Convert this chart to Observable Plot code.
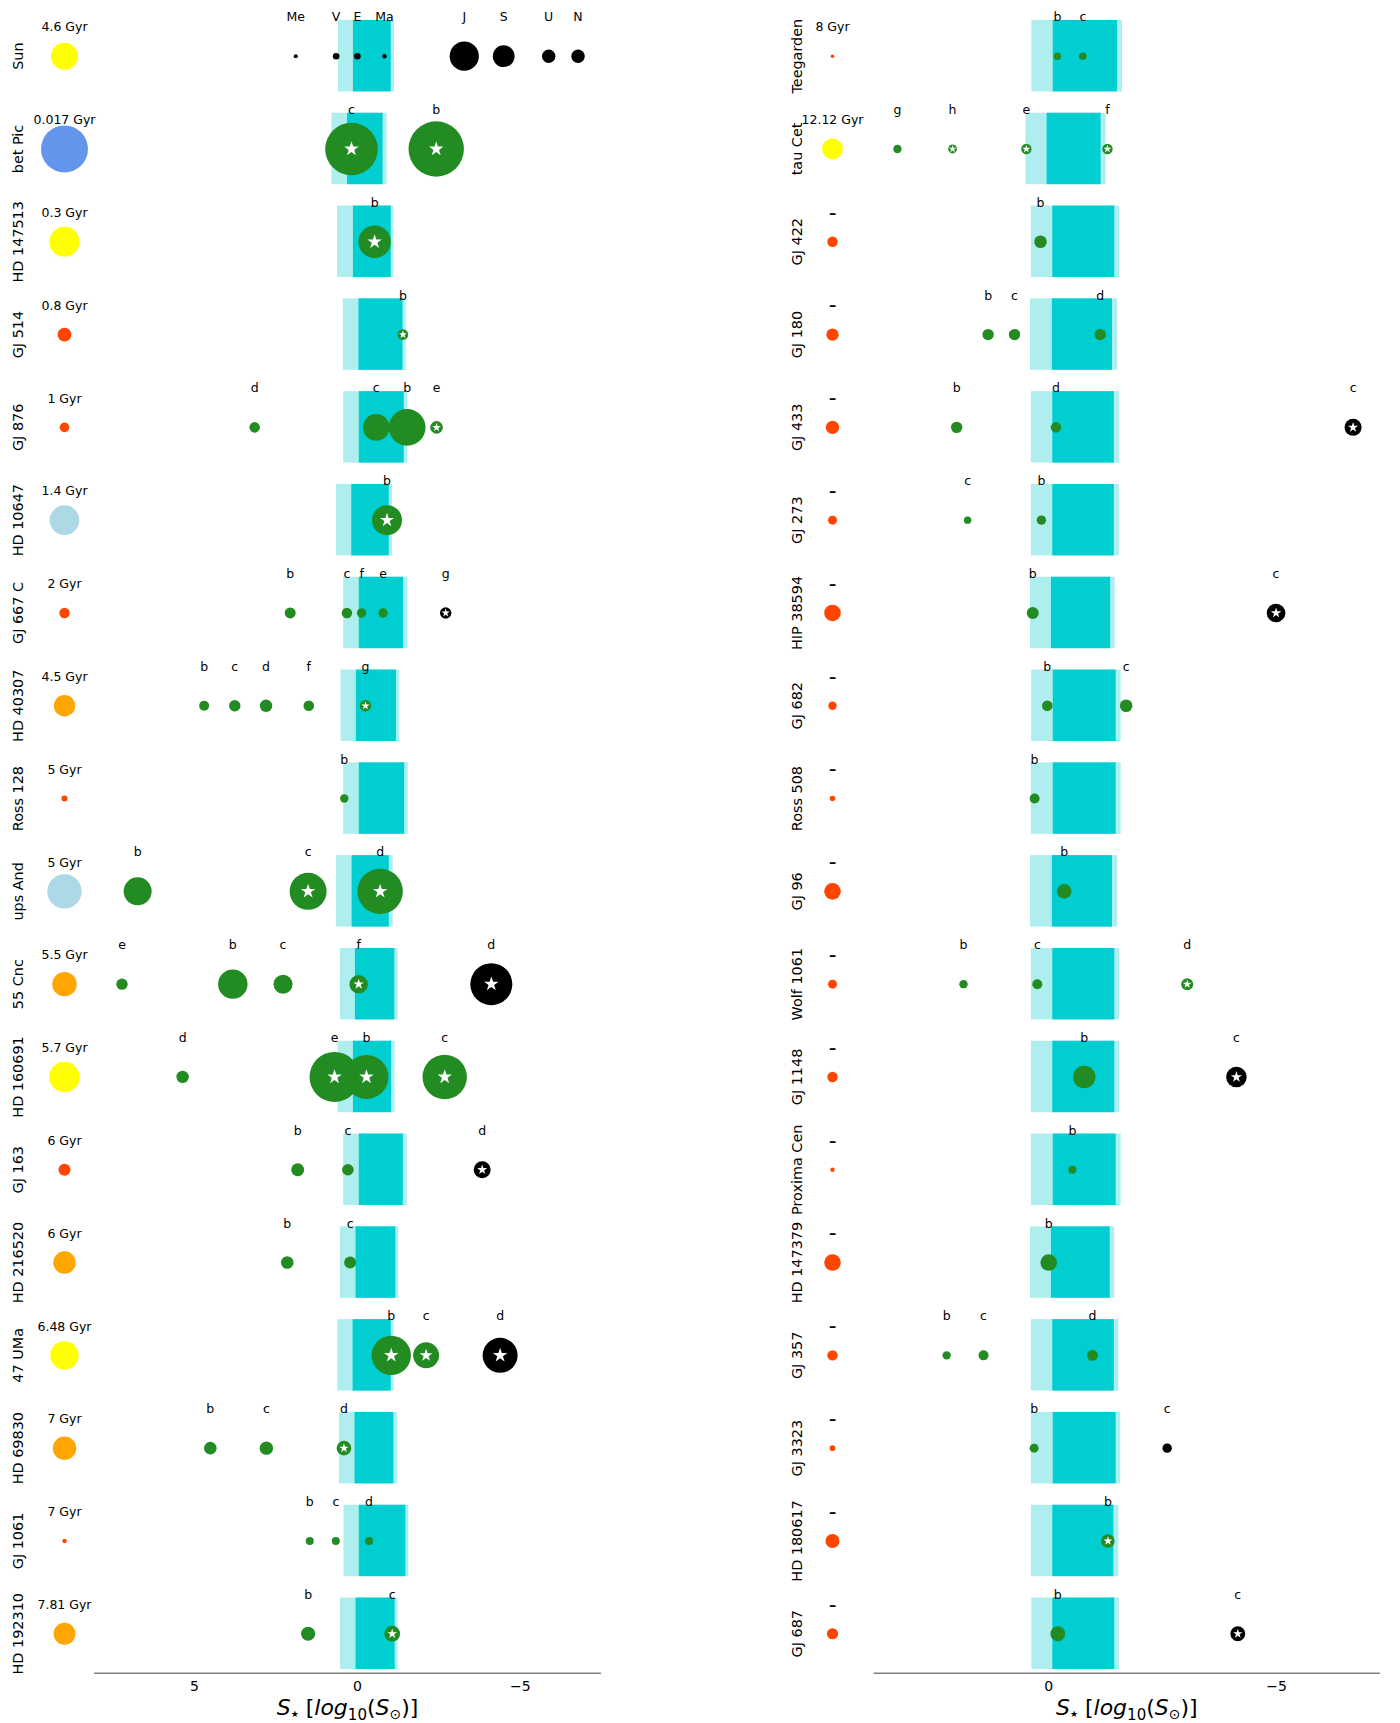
<!DOCTYPE html>
<html>
<head>
<meta charset="utf-8">
<script src="https://cdn.jsdelivr.net/npm/d3@7"></script>
<script src="https://cdn.jsdelivr.net/npm/@observablehq/plot@0.6"></script>
<style>
  html, body { margin: 0; padding: 0; background: white; }
  #chart { position: relative; width: 1400px; height: 1723px; background: white; font-family: "DejaVu Sans", sans-serif; }
  #chart svg { position: absolute; top: 0; max-width: none; }
</style>
</head>
<body>
<div id="chart"></div>
<script>
// ---------------- LEFT PANEL DATA ----------------
const leftSystems = ["Sun","bet Pic","HD 147513","GJ 514","GJ 876","HD 10647","GJ 667 C","HD 40307","Ross 128",
  "ups And","55 Cnc","HD 160691","GJ 163","HD 216520","47 UMa","HD 69830","GJ 1061","HD 192310"];
const leftAges = ["4.6 Gyr","0.017 Gyr","0.3 Gyr","0.8 Gyr","1 Gyr","1.4 Gyr","2 Gyr","4.5 Gyr","5 Gyr",
  "5 Gyr","5.5 Gyr","5.7 Gyr","6 Gyr","6 Gyr","6.48 Gyr","7 Gyr","7 Gyr","7.81 Gyr"];
const leftSpectra = ["G","A","G","M","M","F","M","K","M","F","K","G","M","K","G","K","M","K"];
const leftStarSize = [13.5,23.5,15,6.9,4.8,14.8,5.2,10.7,3,17.2,12.2,15.2,6,11.2,14.2,11.7,2.2,10.9];
// habitable zone edges (log flux): optimistic inner, conservative inner, conservative outer, optimistic outer
const leftHzOptIn   = [0.58,0.78,0.61,0.43,0.42,0.64,0.42,0.50,0.42,0.64,0.52,0.59,0.42,0.52,0.60,0.55,0.41,0.52];
const leftHzConsIn  = [0.12,0.30,0.12,-0.05,-0.06,0.17,-0.06,0.03,-0.06,0.16,0.06,0.12,-0.06,0.04,0.13,0.07,-0.06,0.04];
const leftHzConsOut = [-1.04,-0.79,-1.04,-1.40,-1.44,-0.98,-1.42,-1.20,-1.45,-0.98,-1.15,-1.05,-1.41,-1.18,-1.04,-1.12,-1.49,-1.16];
const leftHzOptOut  = [-1.14,-0.91,-1.12,-1.50,-1.54,-1.08,-1.54,-1.30,-1.56,-1.10,-1.25,-1.16,-1.53,-1.27,-1.13,-1.23,-1.58,-1.25];
// [system, planet, log flux, marker size, class (g = green, k = black), starred]
const leftPlanets = [
  ["Sun","Me",1.89,2.0,"k",0],["Sun","V",0.65,3.3,"k",0],["Sun","E",0.0,3.3,"k",0],["Sun","Ma",-0.83,2.2,"k",0],
  ["Sun","J",-3.28,14.6,"k",0],["Sun","S",-4.49,10.9,"k",0],["Sun","U",-5.87,6.7,"k",0],["Sun","N",-6.77,6.7,"k",0],
  ["bet Pic","c",0.18,26.3,"g",1],["bet Pic","b",-2.42,27.7,"g",1],
  ["HD 147513","b",-0.53,16.2,"g",1],
  ["GJ 514","b",-1.40,5.3,"g",1],
  ["GJ 876","d",3.15,5.3,"g",0],["GJ 876","c",-0.58,13.3,"g",0],["GJ 876","b",-1.53,18.3,"g",0],["GJ 876","e",-2.43,6.3,"g",1],
  ["HD 10647","b",-0.91,15,"g",1],
  ["GJ 667 C","b",2.06,5.5,"g",0],["GJ 667 C","c",0.32,5.2,"g",0],["GJ 667 C","f",-0.13,4.7,"g",0],["GJ 667 C","e",-0.79,4.7,"g",0],["GJ 667 C","g",-2.71,5.7,"k",1],
  ["HD 40307","b",4.70,5,"g",0],["HD 40307","c",3.76,5.7,"g",0],["HD 40307","d",2.80,6.2,"g",0],["HD 40307","f",1.49,5.3,"g",0],["HD 40307","g",-0.25,5.7,"g",1],
  ["Ross 128","b",0.40,4.2,"g",0],
  ["ups And","b",6.74,14,"g",0],["ups And","c",1.51,18.5,"g",1],["ups And","d",-0.70,22.7,"g",1],
  ["55 Cnc","e",7.22,5.7,"g",0],["55 Cnc","b",3.82,14.7,"g",0],["55 Cnc","c",2.28,9.5,"g",0],["55 Cnc","f",-0.04,9.2,"g",1],["55 Cnc","d",-4.11,21,"k",1],
  ["HD 160691","d",5.36,6.2,"g",0],["HD 160691","e",0.70,25,"g",1],["HD 160691","b",-0.28,22,"g",1],["HD 160691","c",-2.68,22.2,"g",1],
  ["GJ 163","b",1.83,6.5,"g",0],["GJ 163","c",0.29,5.8,"g",0],["GJ 163","d",-3.83,8.5,"k",1],
  ["HD 216520","b",2.15,6.3,"g",0],["HD 216520","c",0.22,6,"g",0],
  ["47 UMa","b",-1.04,19.7,"g",1],["47 UMa","c",-2.11,13,"g",1],["47 UMa","d",-4.38,17.5,"k",1],
  ["HD 69830","b",4.51,6.3,"g",0],["HD 69830","c",2.79,6.7,"g",0],["HD 69830","d",0.41,7.3,"g",1],
  ["GJ 1061","b",1.46,4,"g",0],["GJ 1061","c",0.66,4,"g",0],["GJ 1061","d",-0.36,4,"g",0],
  ["HD 192310","b",1.51,7.1,"g",0],["HD 192310","c",-1.07,7.9,"g",1]
];
const leftDomain = [8.06, -7.49];
const leftTicks = [5, 0, -5];

// ---------------- RIGHT PANEL DATA ----------------
const rightSystems = ["Teegarden","tau Cet","GJ 422","GJ 180","GJ 433","GJ 273","HIP 38594","GJ 682","Ross 508",
  "GJ 96","Wolf 1061","GJ 1148","Proxima Cen","HD 147379","GJ 357","GJ 3323","HD 180617","GJ 687"];
const rightAges = ["8 Gyr","12.12 Gyr","–","–","–","–","–","–","–","–","–","–","–","–","–","–","–","–"];
const rightSpectra = ["M","G","M","M","M","M","M","M","M","M","M","M","M","M","M","M","M","M"];
const rightStarSize = [1.8,10.4,5.2,6.2,6.7,4.5,8.3,4.2,2.8,8.3,4.5,5.2,2.2,8.3,5.2,2.8,7,5.6];
const rightHzOptIn   = [0.37,0.50,0.38,0.40,0.38,0.38,0.40,0.375,0.38,0.40,0.38,0.38,0.38,0.40,0.38,0.38,0.38,0.37];
const rightHzConsIn  = [-0.10,0.035,-0.09,-0.08,-0.09,-0.09,-0.06,-0.10,-0.10,-0.08,-0.09,-0.09,-0.10,-0.06,-0.09,-0.10,-0.09,-0.09];
const rightHzConsOut = [-1.51,-1.15,-1.45,-1.40,-1.44,-1.44,-1.36,-1.48,-1.48,-1.40,-1.45,-1.45,-1.48,-1.35,-1.44,-1.48,-1.43,-1.45];
const rightHzOptOut  = [-1.62,-1.26,-1.56,-1.51,-1.55,-1.55,-1.46,-1.59,-1.59,-1.51,-1.56,-1.56,-1.59,-1.45,-1.54,-1.58,-1.54,-1.55];
const rightPlanets = [
  ["Teegarden","b",-0.19,3.8,"g",0],["Teegarden","c",-0.75,3.8,"g",0],
  ["tau Cet","g",3.32,4.2,"g",0],["tau Cet","h",2.11,4.4,"g",1],["tau Cet","e",0.49,5.2,"g",1],["tau Cet","f",-1.29,5.2,"g",1],
  ["GJ 422","b",0.18,6.3,"g",0],
  ["GJ 180","b",1.33,5.7,"g",0],["GJ 180","c",0.75,5.7,"g",0],["GJ 180","d",-1.13,5.7,"g",0],
  ["GJ 433","b",2.02,5.7,"g",0],["GJ 433","d",-0.16,5.3,"g",0],["GJ 433","c",-6.68,8.5,"k",1],
  ["GJ 273","c",1.78,3.7,"g",0],["GJ 273","b",0.16,4.7,"g",0],
  ["HIP 38594","b",0.35,6,"g",0],["HIP 38594","c",-4.99,9.3,"k",1],
  ["GJ 682","b",0.03,5.3,"g",0],["GJ 682","c",-1.70,6.3,"g",0],
  ["Ross 508","b",0.31,5,"g",0],
  ["GJ 96","b",-0.34,7.3,"g",0],
  ["Wolf 1061","b",1.87,4.2,"g",0],["Wolf 1061","c",0.25,5,"g",0],["Wolf 1061","d",-3.04,6,"g",1],
  ["GJ 1148","b",-0.78,11.2,"g",0],["GJ 1148","c",-4.12,10.3,"k",1],
  ["Proxima Cen","b",-0.52,4,"g",0],
  ["HD 147379","b",0.0,8.3,"g",0],
  ["GJ 357","b",2.24,4.2,"g",0],["GJ 357","c",1.43,5,"g",0],["GJ 357","d",-0.96,5.5,"g",0],
  ["GJ 3323","b",0.32,4.5,"g",0],["GJ 3323","c",-2.60,4.7,"k",0],
  ["HD 180617","b",-1.30,6.7,"g",1],
  ["GJ 687","b",-0.20,7.4,"g",0],["GJ 687","c",-4.15,7.4,"k",1]
];
const rightDomain = [3.83, -7.28];
const rightTicks = [0, -5];

const colorDomain = ["A","F","G","K","M","g","k"];
const colorRange = ["#6495ED","#ADD8E6","#FFFF00","#FFA500","#FF4500","#228B22","#000000"];

// ---------------- DRAWING ----------------
const yDomain = [-0.6, 17.425];
const starMarker = s => Math.min(14.5, 5 + 0.6 * s) / 3.18;

function panel(cfg) {
  const rows = cfg.systems.map((name, i) => ({
    name, row: i, age: cfg.ages[i], spec: cfg.spectra[i], size: cfg.starSize[i],
    a: cfg.hzOptIn[i], b: cfg.hzConsIn[i], c: cfg.hzConsOut[i], d: cfg.hzOptOut[i]
  }));
  const index = new Map(cfg.systems.map((n, i) => [n, i]));
  const planets = cfg.planets.map(([sys, name, flux, size, cls, flag]) =>
    ({row: index.get(sys), name, flux, size, cls, flag}));
  const dated = rows.filter(d => d.age !== "–");
  const undated = rows.filter(d => d.age === "–");
  const svg = Plot.plot({
    width: 700, height: 1723,
    marginTop: 0, marginBottom: 50.3, marginLeft: cfg.marginLeft, marginRight: cfg.marginRight,
    style: {fontFamily: "DejaVu Sans", fontSize: "12.5px", background: "white", overflow: "visible", maxWidth: "none"},
    x: {domain: cfg.domain},
    y: {domain: yDomain, reverse: true, axis: null},
    r: {type: "linear", domain: [0, 30], range: [0, 30]},
    color: {type: "ordinal", domain: colorDomain, range: colorRange},
    marks: [
      Plot.rect(rows, {x1: "a", x2: "d", y1: d => d.row - 0.385, y2: d => d.row + 0.385, fill: "#AFEEEE"}),
      Plot.rect(rows, {x1: "b", x2: "c", y1: d => d.row - 0.385, y2: d => d.row + 0.385, fill: "#00CED1"}),
      Plot.dot(planets, {x: "flux", y: "row", r: "size", fill: "cls", stroke: null}),
      Plot.dot(planets.filter(p => p.flag), {x: "flux", y: "row", r: d => starMarker(d.size), symbol: "star", fill: "white", stroke: null}),
      Plot.text(planets, {x: "flux", y: d => d.row - 0.42, text: "name", fill: "black", fontSize: 12.5}),
      Plot.dot(rows, {frameAnchor: "left", dx: cfg.starDx, y: "row", r: "size", fill: "spec", stroke: null}),
      Plot.text(dated, {frameAnchor: "left", dx: cfg.starDx, y: d => d.row - 0.31, text: "age", textAnchor: "middle",
        fill: "black", fontSize: 12.5}),
      Plot.text(undated, {frameAnchor: "left", dx: cfg.starDx, y: d => d.row - 0.31, text: "age", textAnchor: "middle",
        fill: "black", fontSize: 14.5, fontWeight: "bold"}),
      Plot.text(rows, {frameAnchor: "left", dx: cfg.nameDx, y: "row", text: "name", rotate: -90, textAnchor: "middle",
        lineAnchor: "middle", fill: "black", fontSize: 14.4}),
      Plot.ruleY([yDomain[1]], {stroke: "#808080", strokeWidth: 1.6}),
      Plot.axisX({ticks: cfg.ticks, tickSize: 0, tickPadding: 8.3, fontSize: 14, label: null, color: "black"})
    ]
  });
  svg.style.left = cfg.left + "px";
  // axis title
  const cx = cfg.marginLeft + (700 - cfg.marginLeft - cfg.marginRight) / 2;
  const t = d3.select(svg).append("text")
    .attr("x", cx).attr("y", 1715).attr("text-anchor", "middle")
    .attr("font-family", "DejaVu Sans").attr("font-size", 22).attr("fill", "black");
  t.append("tspan").attr("font-style", "italic").text("S");
  t.append("tspan").attr("font-size", 9).attr("dy", 2).text("★");
  t.append("tspan").attr("dy", -2).text(" [");
  t.append("tspan").attr("font-style", "italic").text("log");
  t.append("tspan").attr("font-size", 15).attr("dy", 5).text("10");
  t.append("tspan").attr("dy", -5).text("(");
  t.append("tspan").attr("font-style", "italic").text("S");
  t.append("tspan").attr("font-size", 14).attr("dy", 4).text("⊙");
  t.append("tspan").attr("dy", -4).text(")]");
  return svg;
}

const chart = document.getElementById("chart");
chart.appendChild(panel({
  systems: leftSystems, ages: leftAges, spectra: leftSpectra, starSize: leftStarSize,
  hzOptIn: leftHzOptIn, hzConsIn: leftHzConsIn, hzConsOut: leftHzConsOut, hzOptOut: leftHzOptOut,
  planets: leftPlanets, domain: leftDomain, ticks: leftTicks,
  marginLeft: 94.1, marginRight: 99, starDx: -30.1, nameDx: -76.3, left: 0
}));
chart.appendChild(panel({
  systems: rightSystems, ages: rightAges, spectra: rightSpectra, starSize: rightStarSize,
  hzOptIn: rightHzOptIn, hzConsIn: rightHzConsIn, hzConsOut: rightHzConsOut, hzOptOut: rightHzOptOut,
  planets: rightPlanets, domain: rightDomain, ticks: rightTicks,
  marginLeft: 173.7, marginRight: 20.1, starDx: -41.7, nameDx: -76.7, left: 700
}));
</script>
</body>
</html>
